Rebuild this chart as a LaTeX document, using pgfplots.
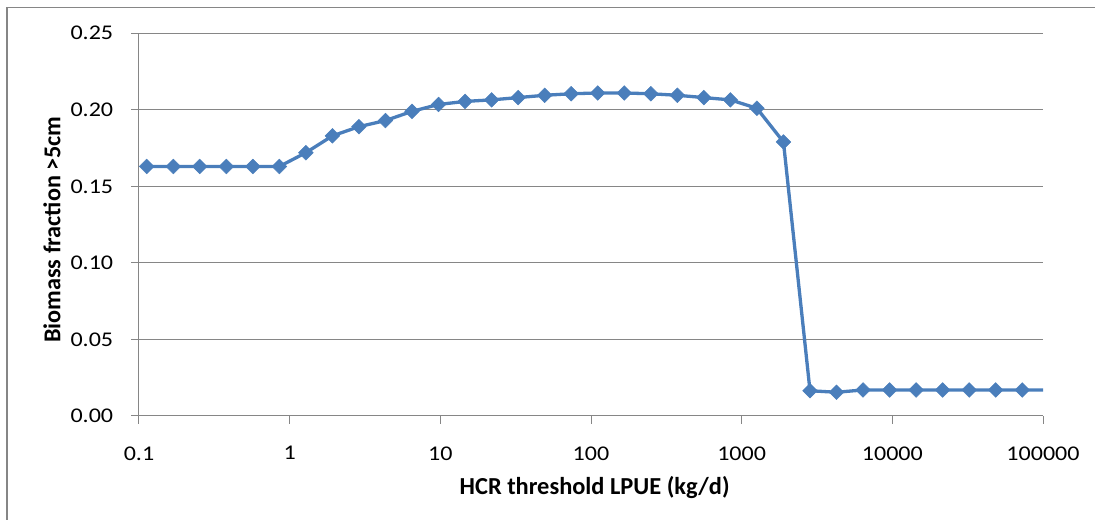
\documentclass[border=0pt]{standalone}
\usepackage{pgfplots}
\usepackage{pgfplotstable}
\pgfplotsset{compat=1.18}
\usepackage{fontspec}
\setmainfont{Carlito}
\definecolor{serblue}{RGB}{74,126,187}
\definecolor{gridgrey}{RGB}{134,134,134}
\pgfplotstableread{
x y
0.1125 0.163
0.169 0.163
0.253 0.163
0.380 0.163
0.570 0.163
0.854 0.163
1.281 0.172
1.922 0.183
2.883 0.189
4.325 0.193
6.487 0.199
9.731 0.2035
14.60 0.2055
21.89 0.2065
32.84 0.208
49.26 0.2095
73.89 0.2105
110.8 0.211
166.2 0.211
249.4 0.2105
374.1 0.2095
561.1 0.208
841.6 0.2065
1262 0.201
1894 0.179
2841 0.0165
4261 0.0155
6392 0.017
9588 0.017
14382 0.017
21573 0.017
32359 0.017
48539 0.017
72809 0.017
100000 0.017
}\datatable
\begin{document}
\begin{tikzpicture}[x=1bp,y=1bp]
\useasboundingbox (0,0) rectangle (1095,520);
\draw[gridgrey, line width=1.5bp] (7,-20) -- (7,512.3) -- (1120,512.3);
\begin{axis}[
  at={(139bp,104bp)}, anchor=south west,
  scale only axis, width=904bp, height=382.7bp,
  xmode=log, xmin=0.1, xmax=100000, ymin=0, ymax=0.25,
  axis lines*=left,
  axis line style={gridgrey, line width=1bp},
  tick style={gridgrey, line width=1bp},
  tick align=outside, major tick length=8bp,
  xminorticks=false,
  xtick={0.1,1,10,100,1000,10000,100000},
  xticklabels={0.1,1,10,100,1000,10000,100000},
  ytick={0,0.05,0.10,0.15,0.20,0.25},
  y tick label style={/pgf/number format/fixed, /pgf/number format/fixed zerofill, /pgf/number format/precision=2},
  /pgf/number format/assume math mode=true,
  ymajorgrids, grid style={gridgrey, line width=1bp},
  ticklabel style={font=\fontsize{21}{25}\selectfont, text=black, xscale=1.15},
  xticklabel style={yshift=-19bp},
  yticklabel style={xshift=-12bp},
  xlabel={HCR threshold LPUE (kg/d)},
  ylabel={Biomass fraction >5cm},
  every axis x label/.style={at={(axis description cs:0.504,-0.188)}, anchor=center, font=\bfseries\fontsize{24.5}{28}\selectfont},
  every axis y label/.style={at={(axis description cs:-0.0962,0.487)}, rotate=90, anchor=center, font=\bfseries\fontsize{24.3}{28}\selectfont},
  clip=false,
]
\addplot[serblue, line width=3.3bp, line join=round, no marks] table[x=x,y=y] {\datatable};
\addplot[only marks, mark=square*, mark size=5.2bp, mark options={rotate=45, fill=serblue, draw=serblue, line width=0.5bp}, skip coords between index={34}{35}] table[x=x,y=y] {\datatable};
\end{axis}
\end{tikzpicture}
\end{document}
